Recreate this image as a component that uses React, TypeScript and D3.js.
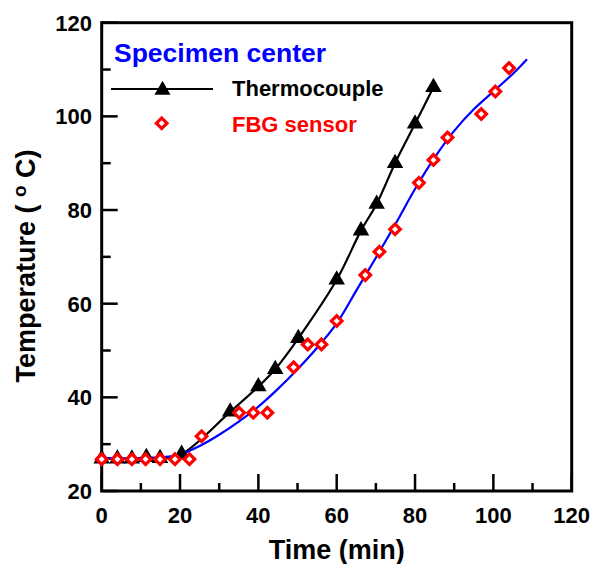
import React from 'react';
import * as d3 from 'd3';

// Thermocouple readings (time in min, temperature in °C)
const tcTime = [0, 4, 7.7, 11.4, 14.9, 20.4, 32.8, 40, 44.3, 50.2, 60, 66.2, 70.2, 74.9, 80, 84.7];
const tcTemp = [26.9, 26.9, 26.9, 27.2, 27, 27.9, 36.9, 42.3, 46, 52.6, 65.1, 75.6, 81.3, 90, 98.4, 106.2];

// FBG sensor readings
const fbgTime = [0, 4, 7.7, 11.2, 14.9, 18.7, 22.4, 25.5, 35.1, 38.7, 42.3, 49, 52.6, 56.1, 60, 67.3, 70.9, 74.9, 81, 84.7, 88.3, 96.9, 100.5, 104];
const fbgTemp = [26.8, 26.8, 26.8, 26.8, 26.8, 26.8, 26.8, 31.7, 36.7, 36.7, 36.7, 46.4, 51.3, 51.3, 56.3, 66.1, 71.1, 75.9, 85.8, 90.7, 95.5, 100.5, 105.3, 110.3];

// Fitted curve for the FBG sensor (blue)
const fitTime = [0, 10, 15, 20, 25, 30, 35, 40, 45, 50, 55, 60, 65, 70, 75, 80, 85, 90, 95, 100, 105, 108.6];
const fitTemp = [27, 27, 27.2, 27.8, 29.6, 32, 34.8, 38, 41.8, 46, 50.6, 55.8, 62.8, 69.8, 77, 84.5, 91.2, 96.9, 101.5, 105.3, 109.1, 112.2];

const xTicks = [0, 20, 40, 60, 80, 100, 120];
const xMinorTicks = [10, 30, 50, 70, 90, 110];
const yTicks = [20, 40, 60, 80, 100, 120];
const yMinorTicks = [30, 50, 70, 90, 110];

const legendTitle = 'Specimen center';
const seriesNames = ['Thermocouple', 'FBG sensor'];

const FONT = "'Liberation Sans', Arial, Helvetica, sans-serif";

export default function App() {
  const left = 101.7, right = 571.7, top = 22.7, bottom = 491;
  const x = d3.scaleLinear().domain([0, 120]).range([left, right]);
  const y = d3.scaleLinear().domain([20, 120]).range([bottom, top]);

  const tcPts: [number, number][] = tcTime.map((t, i) => [t, tcTemp[i]]);
  const fbgPts: [number, number][] = fbgTime.map((t, i) => [t, fbgTemp[i]]);
  const fitPts: [number, number][] = fitTime.map((t, i) => [t, fitTemp[i]]);

  const line = d3.line<[number, number]>()
    .x(d => x(d[0]))
    .y(d => y(d[1]))
    .curve(d3.curveCatmullRom.alpha(0.5));

  const tri = d3.symbol().type(d3.symbolTriangle).size(118)()!;
  const triLegend = d3.symbol().type(d3.symbolTriangle).size(112)()!;
  const diamond = d3.symbol().type(d3.symbolSquare).size(56)()!;

  return (
    <svg width={593} height={564} style={{ position: 'absolute', left: 0, top: 0, background: '#fff' }}
      fontFamily={FONT} fontWeight="bold">
      <rect x={0} y={0} width={593} height={564} fill="#fff" />

      {/* curves */}
      <path d={line(tcPts)!} fill="none" stroke="#000" strokeWidth={2.2} />
      <path d={line(fitPts)!} fill="none" stroke="#0000ff" strokeWidth={2.2} />

      {/* frame */}
      <rect x={left} y={top} width={right - left} height={bottom - top} fill="none" stroke="#000" strokeWidth={3} />

      {/* x ticks */}
      {xTicks.map(t => (
        <g key={'xt' + t}>
          <line x1={x(t)} x2={x(t)} y1={bottom} y2={bottom - 17} stroke="#000" strokeWidth={2.5} />
          <text x={x(t)} y={522.5} textAnchor="middle" fontSize={22}>{t}</text>
        </g>
      ))}
      {xMinorTicks.map(t => (
        <line key={'xm' + t} x1={x(t)} x2={x(t)} y1={bottom} y2={bottom - 8} stroke="#000" strokeWidth={2.5} />
      ))}

      {/* y ticks */}
      {yTicks.map(t => (
        <g key={'yt' + t}>
          <line x1={left} x2={left + 16} y1={y(t)} y2={y(t)} stroke="#000" strokeWidth={2.5} />
          <text x={92} y={y(t) + 8} textAnchor="end" fontSize={22}>{t}</text>
        </g>
      ))}
      {yMinorTicks.map(t => (
        <line key={'ym' + t} x1={left} x2={left + 9} y1={y(t)} y2={y(t)} stroke="#000" strokeWidth={2.5} />
      ))}

      {/* axis titles */}
      <text x={(left + right) / 2} y={559} textAnchor="middle" fontSize={27}>Time (min)</text>
      <text transform={`translate(35,266) rotate(-90)`} textAnchor="middle" fontSize={27}>
        Temperature ( <tspan fontSize={19} dy={-9}>o</tspan><tspan dy={9}> C)</tspan>
      </text>

      {/* markers */}
      {tcPts.map((d, i) => (
        <path key={'tc' + i} d={tri} transform={`translate(${x(d[0])},${y(d[1])})`} fill="#000" />
      ))}
      {fbgPts.map((d, i) => (
        <path key={'fb' + i} d={diamond} transform={`translate(${x(d[0])},${y(d[1])}) rotate(45)`}
          fill="#fff" stroke="#ff0000" strokeWidth={3.2} />
      ))}

      {/* legend */}
      <text x={114} y={62} fontSize={26.5} fill="#0000ff">{legendTitle}</text>
      <line x1={111} x2={213} y1={89} y2={89} stroke="#000" strokeWidth={2.2} />
      <path d={triLegend} transform="translate(162.5,90)" fill="#000" />
      <text x={232} y={95.5} fontSize={22} fill="#000">{seriesNames[0]}</text>
      <path d={diamond} transform="translate(161.7,123.3) rotate(45)" fill="#fff" stroke="#ff0000" strokeWidth={3.2} />
      <text x={232} y={131.5} fontSize={22} fill="#ff0000">{seriesNames[1]}</text>
    </svg>
  );
}
